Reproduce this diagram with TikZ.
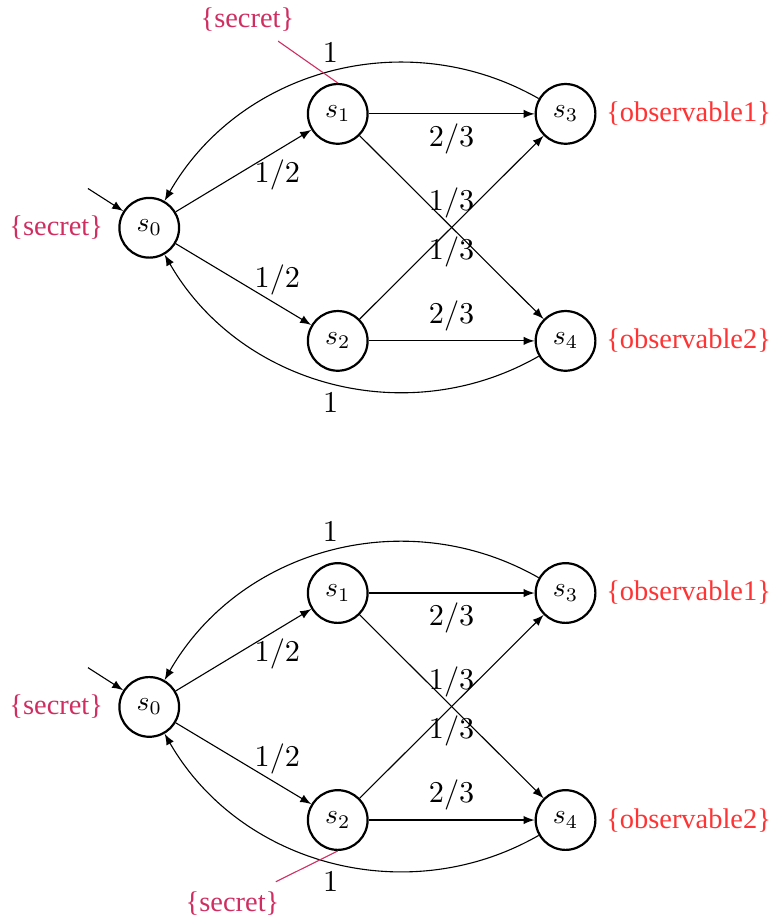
\documentclass[tikz,border=0pt]{standalone}
\usepackage{fontspec}
\setmainfont{Liberation Serif}
\usepackage{tikz}
\definecolor{secretred}{RGB}{208,46,98}
\definecolor{obsred}{RGB}{255,51,51}
\usetikzlibrary{positioning}
\usetikzlibrary{arrows}

\begin{document}
\begin{tikzpicture}[>=latex,on grid,
    state/.style={circle,draw,thick,minimum size=0.76cm,inner sep=0pt},
    prob/.style={font=\fontsize{11}{13}\selectfont},
    secret/.style={text=secretred,font=\fontsize{10.3}{12}\selectfont},
    obs/.style={text=obsred,font=\fontsize{10.3}{12}\selectfont},
    pinline/.style={draw=secretred}
]
\useasboundingbox (-1.9,-8.8) rectangle (7.92,2.9);

% first chain: s1 is secret
\node[state,label={[secret,label distance=2pt]left:\{secret\}}] (s0) at (0,0) {$s_0$};
\node[state] (s1) [above right=1.45cm and 2.4cm of s0] {$s_1$};
\node[state] (s2) [below=2.89cm of s1] {$s_2$};
\node[state,label={[obs]right:\{observable1\}}] (s3) [right=2.9cm of s1] {$s_3$};
\node[state,label={[obs]right:\{observable2\}}] (s4) [right=2.9cm of s2] {$s_4$};
\node[secret] (sec1) [above left=1.2cm and 1.15cm of s1] {\{secret\}};
\coordinate[above left=0.5cm and 0.78cm of s0] (in0);

\draw[->] (in0) -- (s0);
\draw[->] (s0) -- node[prob,pos=0.75,anchor=north] {$1/2$} (s1);
\draw[->] (s0) -- node[prob,pos=0.75,anchor=south] {$1/2$} (s2);
\draw[->] (s1) -- node[prob,below] {$2/3$} (s3);
\draw[->] (s1) -- node[prob,below] {$1/3$} (s4);
\draw[->] (s2) -- node[prob,above] {$1/3$} (s3);
\draw[->] (s2) -- node[prob,above] {$2/3$} (s4);
\draw[->] (s3) to[bend right=45] node[prob,above] {$1$} (s0);
\draw[->] (s4) to[bend left=45] node[prob,below] {$1$} (s0);
\draw[pinline] (sec1) -- (s1.north);

% second chain: s2 is secret
\node[state,label={[secret,label distance=2pt]left:\{secret\}}] (t0) at (0,-6.1) {$s_0$};
\node[state] (t1) [above right=1.45cm and 2.4cm of t0] {$s_1$};
\node[state] (t2) [below=2.89cm of t1] {$s_2$};
\node[state,label={[obs]right:\{observable1\}}] (t3) [right=2.9cm of t1] {$s_3$};
\node[state,label={[obs]right:\{observable2\}}] (t4) [right=2.9cm of t2] {$s_4$};
\node[secret] (sec2) [below left=1.06cm and 1.34cm of t2] {\{secret\}};
\coordinate[above left=0.5cm and 0.78cm of t0] (in1);

\draw[->] (in1) -- (t0);
\draw[->] (t0) -- node[prob,pos=0.75,anchor=north] {$1/2$} (t1);
\draw[->] (t0) -- node[prob,pos=0.75,anchor=south] {$1/2$} (t2);
\draw[->] (t1) -- node[prob,below] {$2/3$} (t3);
\draw[->] (t1) -- node[prob,below] {$1/3$} (t4);
\draw[->] (t2) -- node[prob,above] {$1/3$} (t3);
\draw[->] (t2) -- node[prob,above] {$2/3$} (t4);
\draw[->] (t3) to[bend right=45] node[prob,above] {$1$} (t0);
\draw[->] (t4) to[bend left=45] node[prob,below] {$1$} (t0);
\draw[pinline] (sec2) -- (t2.south);
\end{tikzpicture}
\end{document}
